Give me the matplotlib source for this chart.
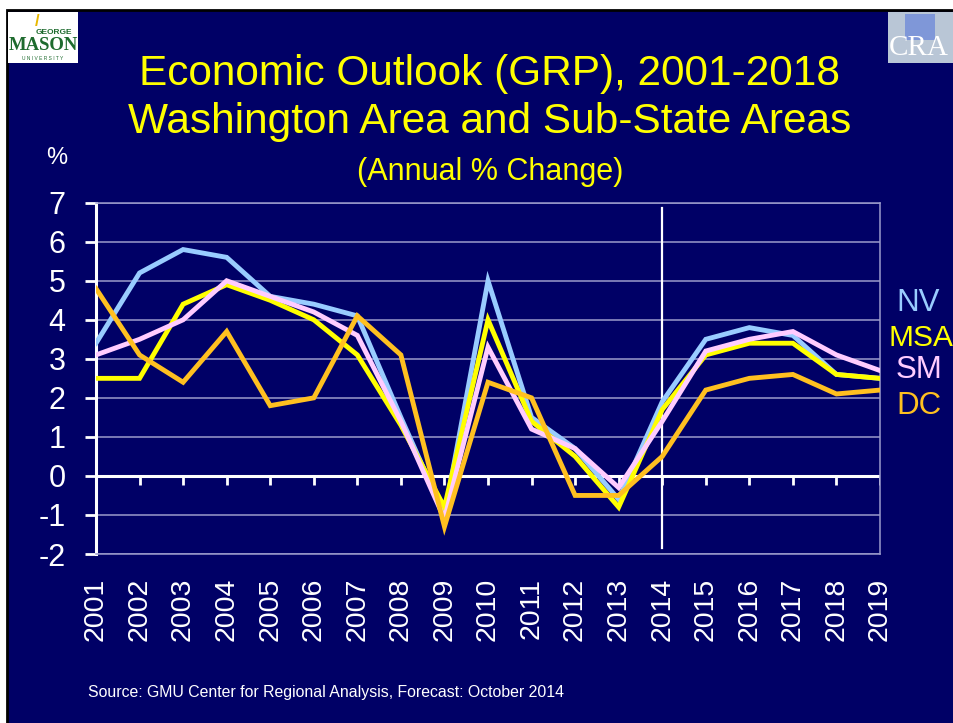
# Economic Outlook (GRP) slide: annual % change, Washington area and sub-state areas

import matplotlib.pyplot as plt
from matplotlib.patches import Rectangle

years = list(range(2001, 2020))
nv = [3.4, 5.2, 5.8, 5.6, 4.6, 4.4, 4.1, 1.5, -1.0, 5.0, 1.5, 0.7, -0.6, 1.9, 3.5, 3.8, 3.6, 2.6, 2.5]
msa = [2.5, 2.5, 4.4, 4.9, 4.5, 4.0, 3.1, 1.3, -0.8, 4.0, 1.4, 0.5, -0.8, 1.7, 3.1, 3.4, 3.4, 2.6, 2.5]
sm = [3.1, 3.5, 4.0, 5.0, 4.6, 4.2, 3.6, 1.4, -1.1, 3.3, 1.2, 0.7, -0.3, 1.4, 3.2, 3.5, 3.7, 3.1, 2.7]
dc = [4.8, 3.1, 2.4, 3.7, 1.8, 2.0, 4.1, 3.1, -1.3, 2.4, 2.0, -0.5, -0.5, 0.5, 2.2, 2.5, 2.6, 2.1, 2.2]
series_names = ["NV", "MSA", "SM", "DC"]
series_colors = ["#99CCFF", "#FFFF00", "#FFCCFF", "#FFC020"]
forecast_year = 2014

NAVY = "#000066"
GRID = "#9A9ACB"

plt.rcParams["font.family"] = ["Liberation Sans", "DejaVu Sans"]
plt.rcParams["axes.unicode_minus"] = False


def draw_slide(fig):
    # slide background with black edge on top / left
    fig.patches.append(Rectangle((7 / 954, -0.01), 1.0, 1 - 10 / 723 + 0.01,
                                 transform=fig.transFigure, facecolor=NAVY,
                                 edgecolor="black", linewidth=2, zorder=-5))
    # GMU logo (approximation)
    fig.patches.append(Rectangle((8 / 954, 1 - 63 / 723), 70 / 954, 51 / 723,
                                 transform=fig.transFigure, facecolor="white",
                                 edgecolor="none", zorder=1))
    fig.text(54 / 954, 1 - 32 / 723, "GEORGE", color="#1E6B2E", fontsize=6,
             fontweight="bold", ha="center", va="center")
    fig.text(43 / 954, 1 - 45 / 723, "MASON", color="#1E6B2E", fontsize=13.5,
             fontweight="bold", ha="center", va="center", family="Liberation Serif")
    fig.text(43 / 954, 1 - 58 / 723, "U N I V E R S I T Y", color="#1E6B2E",
             fontsize=3.5, ha="center", va="center")
    fig.text(37 / 954, 1 - 22 / 723, "/", color="#E8B800", fontsize=12,
             fontweight="bold", ha="center", va="center")
    # CRA logo (approximation)
    fig.patches.append(Rectangle((888 / 954, 1 - 63 / 723), 66 / 954, 51 / 723,
                                 transform=fig.transFigure, facecolor="#B9C6D6",
                                 edgecolor="none", zorder=1))
    fig.patches.append(Rectangle((905 / 954, 1 - 40 / 723), 30 / 954, 26 / 723,
                                 transform=fig.transFigure, facecolor="#7F97D8",
                                 edgecolor="none", zorder=1))
    fig.text(889 / 954, 1 - 48 / 723, "CRA", color="white", fontsize=21,
             family="Liberation Serif", ha="left", va="center")


def draw_chart(fig):
    ax = fig.add_axes([96 / 954, 1 - 554 / 723, 784 / 954, 351.3 / 723])
    ax.set_facecolor(NAVY)

    for vals, color in zip([nv, msa, sm, dc], series_colors):
        ax.plot(years, vals, color=color, linewidth=3.5, solid_joinstyle="miter",
                zorder=3)

    ax.set_xlim(years[0], years[-1])
    ax.set_ylim(-2, 7)
    ax.set_yticks(range(-2, 8))
    ax.grid(axis="y", color=GRID, linewidth=1.1)
    ax.set_axisbelow(True)

    # white zero line with category ticks hanging below it
    ax.axhline(0, color="white", linewidth=2.2, zorder=2)
    ax.vlines(years, -0.22, 0, color="white", linewidth=2, zorder=2)
    # forecast divider
    ax.axvline(forecast_year, ymin=0.016, ymax=0.985, color="white",
               linewidth=1.6, zorder=2)

    ax.set_xticks(years)
    ax.set_xticklabels([str(y) for y in years], rotation=90, fontsize=20.5,
                       color="white")
    ax.tick_params(axis="x", length=0, pad=17)
    ax.tick_params(axis="y", direction="out", length=8, width=2, color="white",
                   labelcolor="white", labelsize=22, pad=14)

    for side in ["top", "right", "bottom"]:
        ax.spines[side].set_color(GRID)
        ax.spines[side].set_linewidth(1.1)
    ax.spines["left"].set_color("white")
    ax.spines["left"].set_linewidth(2.2)

    # series labels on the right
    label_pos = [(896, 303), (889, 338), (896, 370), (896, 406)]
    sizes = [22.5, 21.5, 22.5, 22.5]
    for name, color, (px, py), fs in zip(series_names, series_colors, label_pos, sizes):
        fig.text(px / 954, 1 - py / 723, name, color=color, fontsize=fs,
                 ha="left", va="center")


def draw_text(fig):
    fig.text(490 / 954, 1 - 74 / 723, "Economic Outlook (GRP), 2001-2018",
             color="#FFFF00", fontsize=30.5, ha="center", va="center")
    fig.text(490 / 954, 1 - 122 / 723, "Washington Area and Sub-State Areas",
             color="#FFFF00", fontsize=30.5, ha="center", va="center")
    fig.text(490 / 954, 1 - 172 / 723, "(Annual % Change)",
             color="#FFFF00", fontsize=22, ha="center", va="center")
    fig.text(57 / 954, 1 - 158 / 723, "%", color="white", fontsize=17,
             ha="center", va="center")
    fig.text(88 / 954, 1 - 693 / 723,
             "Source: GMU Center for Regional Analysis, Forecast: October 2014",
             color="white", fontsize=11.4, ha="left", va="center")


def main():
    fig = plt.figure(figsize=(9.54, 7.23), dpi=100, facecolor="white")
    draw_slide(fig)
    draw_chart(fig)
    draw_text(fig)
    fig.savefig("out.png", dpi=100, facecolor=fig.get_facecolor())
    plt.close(fig)


if __name__ == "__main__":
    main()
